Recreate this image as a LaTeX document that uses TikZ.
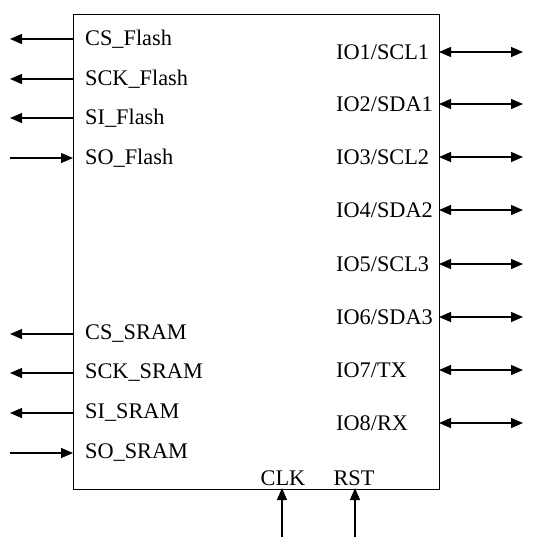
\documentclass[tikz,border=0pt]{standalone}
\usepackage{fontspec}
\setmainfont{Liberation Serif}
\usetikzlibrary{arrows.meta}
\begin{document}
\begin{tikzpicture}[x=1pt,y=-1pt,
  sig/.style={line width=1.3pt},
  tip/.style={-{Triangle[length=12pt,width=10pt]}},
  bitip/.style={{Triangle[length=12pt,width=10pt]}-{Triangle[length=12pt,width=10pt]}},
  lbl/.style={font=\fontsize{22.3}{25}\selectfont, inner sep=0pt, anchor=west},
  blbl/.style={font=\fontsize{22.3}{25}\selectfont, inner sep=0pt}]
\useasboundingbox (0,0) rectangle (533,550);
\node[draw, line width=1.2pt, minimum width=366pt, minimum height=475pt, inner sep=0pt, anchor=north west] (box) at (73,13.5) {};
% left side
\foreach \n/\t/\y/\d in {csf/CS\_Flash/39/out, sckf/SCK\_Flash/79/out, sif/SI\_Flash/118/out, sof/SO\_Flash/158/in,
  css/CS\_SRAM/334/out, scks/SCK\_SRAM/373/out, sis/SI\_SRAM/413/out, sos/SO\_SRAM/453/in}{
  \node[lbl] (l\n) at (85,\y) {\t};
  \coordinate (p\n) at (73,\y);
  \coordinate (e\n) at (10,\y);
}
\foreach \n in {csf,sckf,sif,css,scks,sis}{ \draw[sig,tip] (p\n) -- (e\n); }
\foreach \n in {sof,sos}{ \draw[sig,tip] (e\n) -- (p\n); }
% right side
\foreach \i/\t/\y in {1/IO1\slash SCL1/52, 2/IO2\slash SDA1/104, 3/IO3\slash SCL2/157, 4/IO4\slash SDA2/210,
  5/IO5\slash SCL3/264, 6/IO6\slash SDA3/317, 7/IO7\slash TX/370, 8/IO8\slash RX/423}{
  \node[lbl] (r\i) at (336,\y) {\t};
  \coordinate (q\i) at (439,\y);
  \coordinate (f\i) at (523,\y);
  \draw[sig,bitip] (q\i) -- (f\i);
}
% bottom
\node[blbl] (clk) at (283,478) {CLK};
\node[blbl] (rst) at (354,478) {RST};
\coordinate (clkb) at (282,488);
\coordinate (clke) at (282,537);
\coordinate (rstb) at (355,488);
\coordinate (rste) at (355,537);
\draw[sig,tip] (clke) -- (clkb);
\draw[sig,tip] (rste) -- (rstb);
\end{tikzpicture}
\end{document}
